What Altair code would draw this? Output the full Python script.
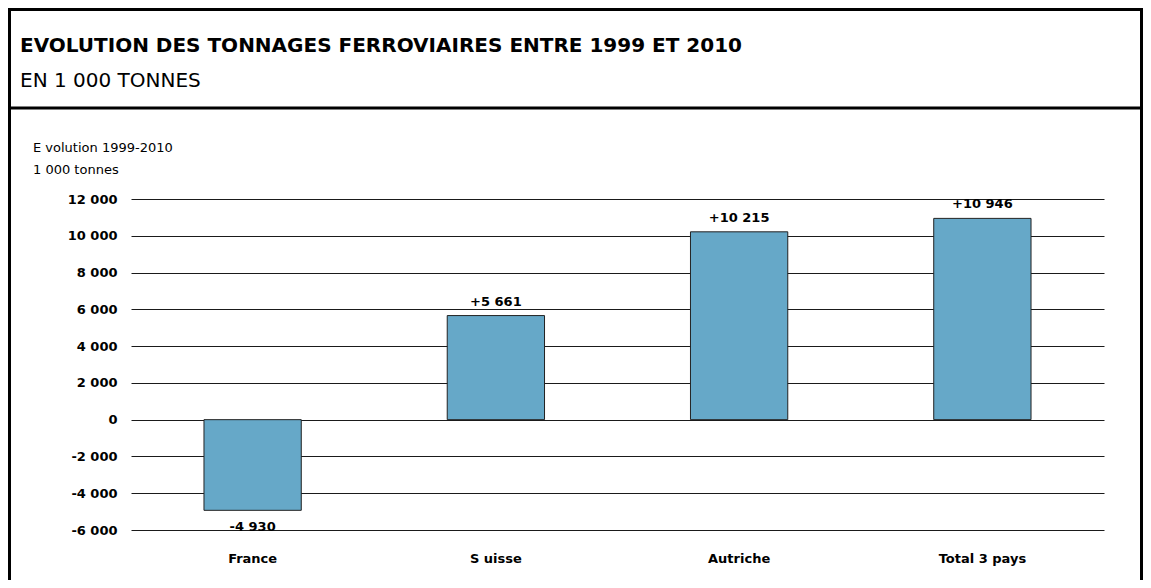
import altair as alt
import pandas as pd

countries = ["France", "S uisse", "Autriche", "Total 3 pays"]
values = [-4930, 5661, 10215, 10946]
value_labels = ["-4 930", "+5 661", "+10 215", "+10 946"]
y_ticks = [-6000, -4000, -2000, 0, 2000, 4000, 6000, 8000, 10000, 12000]
title_text = "EVOLUTION DES TONNAGES FERROVIAIRES ENTRE 1999 ET 2010"
subtitle_text = "EN 1 000 TONNES"
unit_lines = ["E volution 1999-2010", "1 000 tonnes"]

FONT = "DejaVu Sans"
W, H = 973, 331
PAD = {"left": 123, "top": 191, "right": 39, "bottom": 50}

df = pd.DataFrame({"pays": countries, "val": values, "lab": value_labels})

x_enc = alt.X(
    "pays:N", sort=countries,
    scale=alt.Scale(paddingInner=0.6, paddingOuter=0.3),
    axis=alt.Axis(title=None, labelAngle=0, ticks=False, domain=False, grid=False,
                  labelFont=FONT, labelFontWeight="bold", labelFontSize=13,
                  labelColor="#000", labelPadding=22, labelOverlap=False),
)
y_enc = alt.Y(
    "val:Q",
    scale=alt.Scale(domain=[-6000, 12000], nice=False, zero=True),
    axis=alt.Axis(title=None, values=y_ticks, tickCount=20, ticks=False, domain=False, grid=True,
                  gridColor="#1a1a1a", gridWidth=1, gridOpacity=1,
                  labelOverlap=False, labelFlush=False,
                  labelFont=FONT, labelFontWeight="bold", labelFontSize=13,
                  labelColor="#000", labelPadding=14,
                  labelExpr="(datum.value < 0 ? '-' : '') + replace(format(abs(datum.value), ','), ',', ' ')"),
)

bars = alt.Chart(df).mark_bar(color="#66a8c8", stroke="#222", strokeWidth=1).encode(
    x=x_enc, y=y_enc
)

pos_labels = alt.Chart(df).transform_filter("datum.val >= 0").mark_text(
    font=FONT, fontWeight="bold", fontSize=13, color="#000", baseline="alphabetic", dy=-10
).encode(x=alt.X("pays:N", sort=countries), y="val:Q", text="lab:N")

neg_labels = alt.Chart(df).transform_filter("datum.val < 0").mark_text(
    font=FONT, fontWeight="bold", fontSize=13, color="#000", baseline="alphabetic", dy=21
).encode(x=alt.X("pays:N", sort=countries), y="val:Q", text="lab:N")

hdr = pd.DataFrame({
    "t": [title_text, subtitle_text, unit_lines[0], unit_lines[1]],
    "k": ["title", "sub", "u1", "u2"],
})

title_mark = alt.Chart(hdr).transform_filter("datum.k == 'title'").mark_text(
    font=FONT, fontWeight="bold", fontSize=20, color="#000", align="left", baseline="alphabetic"
).encode(x=alt.value(-111), y=alt.value(-147), text="t:N")

sub_mark = alt.Chart(hdr).transform_filter("datum.k == 'sub'").mark_text(
    font=FONT, fontSize=20, color="#000", align="left", baseline="alphabetic"
).encode(x=alt.value(-111), y=alt.value(-112), text="t:N")

u1_mark = alt.Chart(hdr).transform_filter("datum.k == 'u1'").mark_text(
    font=FONT, fontSize=13, color="#000", align="left", baseline="alphabetic"
).encode(x=alt.value(-98), y=alt.value(-47), text="t:N")

u2_mark = alt.Chart(hdr).transform_filter("datum.k == 'u2'").mark_text(
    font=FONT, fontSize=13, color="#000", align="left", baseline="alphabetic"
).encode(x=alt.value(-98), y=alt.value(-25), text="t:N")

RIGHT = W + PAD["right"] - 1.5

frame = alt.Chart(hdr).transform_filter("datum.k == 'title'").mark_rect(
    fillOpacity=0, stroke="#000", strokeWidth=3
).encode(x=alt.value(-121.5), x2=alt.value(RIGHT), y=alt.value(-189.5), y2=alt.value(H + 80))

sep = alt.Chart(hdr).transform_filter("datum.k == 'title'").mark_rule(
    stroke="#000", strokeWidth=3
).encode(x=alt.value(-121.5), x2=alt.value(RIGHT), y=alt.value(-91))

chart = alt.layer(
    bars, pos_labels, neg_labels, title_mark, sub_mark, u1_mark, u2_mark, sep, frame
).properties(
    width=W, height=H,
    autosize=alt.AutoSizeParams(type="none"),
    padding=PAD,
    background="white",
).configure_view(stroke=None)

chart.save("out.html", embed_options={"renderer": "svg", "actions": False})
